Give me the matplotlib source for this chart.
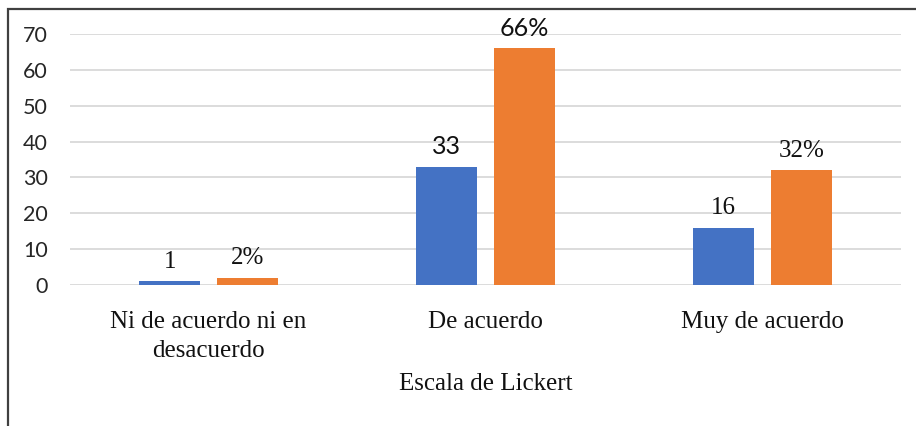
import matplotlib
matplotlib.use("Agg")
import matplotlib.pyplot as plt
from matplotlib.patches import Rectangle
import numpy as np

categories = ["Ni de acuerdo ni en\ndesacuerdo", "De acuerdo", "Muy de acuerdo"]
counts = [1, 33, 16]
percents = [2, 66, 32]
count_labels = ["1", "33", "16"]
percent_labels = ["2%", "66%", "32%"]
label_is_sans = [False, True, False]
yticks = [0, 10, 20, 30, 40, 50, 60, 70]
xlabel = "Escala de Lickert"

W, H = 916, 426
fig = plt.figure(figsize=(W / 100, H / 100), dpi=100)
ax = fig.add_axes([70 / W, 1 - 285 / H, (901 - 70) / W, (285 - 34) / H])

x = np.arange(len(categories))
bw = 0.22
off = 0.14
blue = "#4472C4"
orange = "#ED7D31"
ax.bar(x - off, counts, bw, color=blue, zorder=3)
ax.bar(x + off, percents, bw, color=orange, zorder=3)

ax.set_xlim(-0.5, 2.5)
ax.set_ylim(0, 70)
ax.set_yticks(yticks)
ax.yaxis.grid(True, color="#D9D9D9", linewidth=1.3, zorder=0)
ax.set_axisbelow(True)
for s in ax.spines.values():
    s.set_visible(False)
ax.tick_params(axis="both", length=0)
ax.tick_params(axis="y", pad=16)
for t in ax.get_yticklabels():
    t.set_fontfamily("Lato")
    t.set_fontsize(15.5)
    t.set_color("#262626")

ax.set_xticks(x)
ax.set_xticklabels(categories, fontfamily="Liberation Serif", fontsize=18, color="#111111",
                   linespacing=1.4)
ax.tick_params(axis="x", pad=19)
ax.set_xlabel(xlabel, fontfamily="Liberation Serif", fontsize=18, color="#111111", labelpad=8)

for i in range(len(categories)):
    fam = "Lato" if label_is_sans[i] else "Liberation Serif"
    ax.annotate(count_labels[i], (x[i] - off, counts[i]), xytext=(0, 6), textcoords="offset points",
                ha="center", va="bottom", fontfamily=fam, fontsize=18, color="#111111")
    ax.annotate(percent_labels[i], (x[i] + off, percents[i]), xytext=(0, 6), textcoords="offset points",
                ha="center", va="bottom", fontfamily=fam, fontsize=18, color="#111111")

fig.patches.append(Rectangle((7.5 / W, -0.05), 1.2, (H - 8.5) / H + 0.05, transform=fig.transFigure,
                             fill=False, edgecolor="#404040", linewidth=1.6))

fig.savefig("out.png", dpi=100)
